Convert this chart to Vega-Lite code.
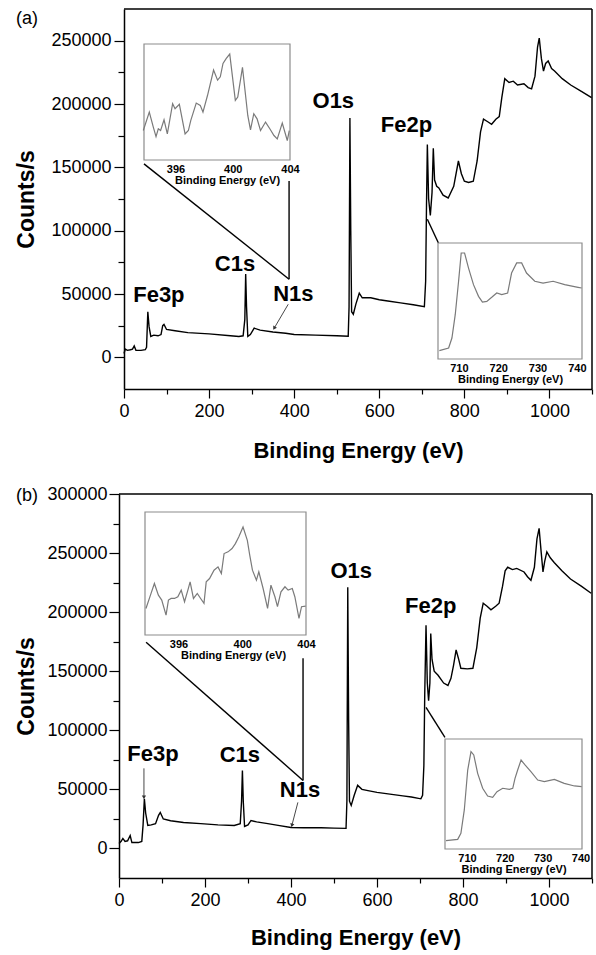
{
  "$schema": "https://vega.github.io/schema/vega-lite/v6.json",
  "padding": {"left": 15, "top": 8, "right": 0, "bottom": 12},
  "config": {
    "view": {"stroke": null},
    "font": "Liberation Sans",
    "axis": {"grid": false, "labelFont": "Liberation Sans", "titleFont": "Liberation Sans", "labelColor": "black", "titleColor": "black", "domainColor": "black", "tickColor": "black", "labelFlush": false, "labelOverlap": false},
    "title": {"font": "Liberation Sans", "color": "black"},
    "text": {"font": "Liberation Sans"}
  },
  "datasets": {
    "survey_a": [
      {"be":0,"counts":3000},{"be":3,"counts":6500},{"be":8,"counts":5500},{"be":15,"counts":6000},{"be":20,"counts":6500},{"be":24,"counts":9000},{"be":28,"counts":5500},{"be":40,"counts":5500},{"be":50,"counts":6000},{"be":53,"counts":8000},{"be":56,"counts":36000},{"be":59,"counts":24000},{"be":63,"counts":16500},{"be":70,"counts":17500},{"be":80,"counts":17000},{"be":87,"counts":18000},{"be":91,"counts":25000},{"be":94,"counts":26000},{"be":100,"counts":22000},{"be":120,"counts":21000},{"be":150,"counts":19500},{"be":200,"counts":18500},{"be":250,"counts":17000},{"be":270,"counts":16500},{"be":280,"counts":17000},{"be":284,"counts":30000},{"be":286,"counts":65700},{"be":288,"counts":40000},{"be":291,"counts":16500},{"be":297,"counts":18000},{"be":306,"counts":23000},{"be":320,"counts":21500},{"be":350,"counts":20000},{"be":380,"counts":19000},{"be":400,"counts":18000},{"be":450,"counts":17500},{"be":500,"counts":17000},{"be":527,"counts":16600},{"be":529,"counts":40000},{"be":531,"counts":189000},{"be":533,"counts":100000},{"be":535,"counts":36000},{"be":539,"counts":34000},{"be":545,"counts":42000},{"be":553,"counts":50600},{"be":560,"counts":47000},{"be":580,"counts":47000},{"be":600,"counts":45500},{"be":620,"counts":44500},{"be":650,"counts":43000},{"be":680,"counts":41500},{"be":706,"counts":40000},{"be":709,"counts":60000},{"be":711,"counts":120000},{"be":713,"counts":168000},{"be":716,"counts":125000},{"be":720,"counts":112000},{"be":724,"counts":130000},{"be":727,"counts":165000},{"be":730,"counts":140000},{"be":735,"counts":135000},{"be":740,"counts":133700},{"be":750,"counts":128000},{"be":762,"counts":125800},{"be":775,"counts":135000},{"be":786,"counts":155000},{"be":793,"counts":145000},{"be":800,"counts":139000},{"be":810,"counts":138000},{"be":821,"counts":139000},{"be":830,"counts":155000},{"be":838,"counts":178000},{"be":845,"counts":188000},{"be":855,"counts":186000},{"be":864,"counts":184000},{"be":874,"counts":188000},{"be":882,"counts":190000},{"be":888,"counts":205000},{"be":895,"counts":220000},{"be":905,"counts":217000},{"be":915,"counts":218000},{"be":925,"counts":215000},{"be":940,"counts":216000},{"be":950,"counts":213000},{"be":958,"counts":212000},{"be":966,"counts":222000},{"be":972,"counts":245000},{"be":976,"counts":252000},{"be":981,"counts":236000},{"be":986,"counts":226000},{"be":991,"counts":232000},{"be":997,"counts":234000},{"be":1005,"counts":228000},{"be":1012,"counts":226000},{"be":1030,"counts":220000},{"be":1050,"counts":215000},{"be":1075,"counts":210000},{"be":1099,"counts":205000}
    ],
    "survey_b": [
      {"be":0,"counts":4200},{"be":5,"counts":6000},{"be":9,"counts":8500},{"be":14,"counts":6000},{"be":20,"counts":6500},{"be":26,"counts":11000},{"be":30,"counts":5000},{"be":45,"counts":5000},{"be":53,"counts":6000},{"be":56,"counts":20000},{"be":59,"counts":42000},{"be":62,"counts":30000},{"be":67,"counts":19500},{"be":75,"counts":20000},{"be":85,"counts":21000},{"be":92,"counts":28000},{"be":96,"counts":30500},{"be":103,"counts":25000},{"be":120,"counts":23500},{"be":150,"counts":22000},{"be":190,"counts":21000},{"be":230,"counts":20000},{"be":268,"counts":19500},{"be":282,"counts":21000},{"be":285,"counts":40000},{"be":287,"counts":66000},{"be":289,"counts":40000},{"be":292,"counts":18600},{"be":300,"counts":20000},{"be":307,"counts":23700},{"be":320,"counts":22500},{"be":346,"counts":21000},{"be":370,"counts":19500},{"be":400,"counts":17800},{"be":430,"counts":17500},{"be":470,"counts":17500},{"be":500,"counts":17200},{"be":528,"counts":17000},{"be":530,"counts":40000},{"be":532,"counts":221000},{"be":534,"counts":110000},{"be":536,"counts":40000},{"be":540,"counts":36400},{"be":547,"counts":45000},{"be":555,"counts":53400},{"be":565,"counts":50000},{"be":579,"counts":49000},{"be":600,"counts":47500},{"be":630,"counts":46000},{"be":660,"counts":44500},{"be":680,"counts":43500},{"be":702,"counts":42000},{"be":706,"counts":45000},{"be":709,"counts":70000},{"be":711,"counts":130000},{"be":714,"counts":189000},{"be":717,"counts":140000},{"be":720,"counts":125000},{"be":723,"counts":140000},{"be":725,"counts":182000},{"be":728,"counts":160000},{"be":733,"counts":150000},{"be":742,"counts":146600},{"be":755,"counts":140000},{"be":765,"counts":138000},{"be":772,"counts":144000},{"be":778,"counts":155000},{"be":784,"counts":168000},{"be":790,"counts":160000},{"be":795,"counts":152500},{"be":810,"counts":152000},{"be":823,"counts":152500},{"be":832,"counts":170000},{"be":840,"counts":195000},{"be":847,"counts":207600},{"be":856,"counts":205000},{"be":865,"counts":202000},{"be":876,"counts":205000},{"be":884,"counts":207600},{"be":892,"counts":222000},{"be":898,"counts":235000},{"be":904,"counts":238000},{"be":915,"counts":236000},{"be":925,"counts":237000},{"be":942,"counts":234000},{"be":950,"counts":230000},{"be":958,"counts":227000},{"be":966,"counts":238000},{"be":972,"counts":262000},{"be":977,"counts":271000},{"be":982,"counts":250000},{"be":986,"counts":234000},{"be":990,"counts":243000},{"be":995,"counts":251000},{"be":1003,"counts":246000},{"be":1012,"counts":242000},{"be":1030,"counts":235000},{"be":1050,"counts":228000},{"be":1075,"counts":222000},{"be":1098,"counts":216000}
    ],
    "n1s_a": [
      {"be":393.75,"i":25.4},{"be":394.17,"i":41.3},{"be":394.45,"i":28.3},{"be":394.64,"i":20.2},{"be":394.8,"i":26.9},{"be":394.96,"i":25.4},{"be":395.2,"i":34.7},{"be":395.43,"i":22.5},{"be":395.8,"i":48.6},{"be":395.97,"i":44.2},{"be":396.27,"i":48},{"be":396.67,"i":22.5},{"be":396.9,"i":25.4},{"be":397.07,"i":34.1},{"be":397.45,"i":49.1},{"be":397.73,"i":47.1},{"be":397.92,"i":41.3},{"be":398.24,"i":55.8},{"be":398.66,"i":77.5},{"be":398.94,"i":68.8},{"be":399.13,"i":71.7},{"be":399.32,"i":83.2},{"be":399.55,"i":87.6},{"be":399.79,"i":91.3},{"be":400.18,"i":51.4},{"be":400.35,"i":54.3},{"be":400.68,"i":79.8},{"be":401.05,"i":38.4},{"be":401.24,"i":26},{"be":401.47,"i":39.9},{"be":401.7,"i":35.5},{"be":401.94,"i":25.4},{"be":402.29,"i":32.7},{"be":402.59,"i":26.9},{"be":402.88,"i":21.1},{"be":403.11,"i":18.2},{"be":403.46,"i":31.8},{"be":403.81,"i":16.8},{"be":403.95,"i":25.4}
    ],
    "fe2p_a": [
      {"be":705.04,"i":7.2},{"be":707.4,"i":9.5},{"be":708.24,"i":18.1},{"be":709.08,"i":38.2},{"be":709.93,"i":67},{"be":710.6,"i":91.4},{"be":711.45,"i":91.4},{"be":712.46,"i":78.4},{"be":713.72,"i":64.1},{"be":715,"i":54},{"be":716,"i":49.1},{"be":717.1,"i":49.7},{"be":718.36,"i":53.2},{"be":719.63,"i":56.9},{"be":720.9,"i":55.5},{"be":722.4,"i":56.9},{"be":723.4,"i":74.1},{"be":724.7,"i":82.8},{"be":725.96,"i":82.8},{"be":727.2,"i":74.1},{"be":729.3,"i":67},{"be":731.4,"i":65.5},{"be":733.96,"i":67},{"be":736.9,"i":64.1},{"be":740.3,"i":61.8},{"be":741.2,"i":61.2}
    ],
    "n1s_b": [
      {"be":393.96,"i":21.6},{"be":394.28,"i":33.8},{"be":394.49,"i":41.9},{"be":394.74,"i":32.4},{"be":394.95,"i":28.4},{"be":395.22,"i":16.2},{"be":395.37,"i":28.4},{"be":395.54,"i":29.7},{"be":395.75,"i":29.7},{"be":395.96,"i":31.1},{"be":396.17,"i":36.5},{"be":396.38,"i":27},{"be":396.59,"i":36.5},{"be":396.73,"i":43.2},{"be":396.94,"i":29.7},{"be":397.18,"i":33.8},{"be":397.39,"i":29.7},{"be":397.6,"i":25.7},{"be":397.74,"i":43.2},{"be":397.95,"i":45.9},{"be":398.23,"i":52.7},{"be":398.48,"i":55.4},{"be":398.69,"i":50},{"be":398.86,"i":66.2},{"be":399.11,"i":67.6},{"be":399.36,"i":70.3},{"be":399.57,"i":74.3},{"be":399.78,"i":79.7},{"be":400.05,"i":87.8},{"be":400.32,"i":77},{"be":400.47,"i":64.9},{"be":400.64,"i":52.7},{"be":400.89,"i":44.6},{"be":401.04,"i":51.4},{"be":401.31,"i":37.8},{"be":401.59,"i":21.6},{"be":401.8,"i":40.5},{"be":402.05,"i":31.1},{"be":402.21,"i":23},{"be":402.43,"i":35.1},{"be":402.68,"i":39.2},{"be":402.88,"i":36.5},{"be":403.14,"i":37.8},{"be":403.3,"i":31.1},{"be":403.56,"i":13.5},{"be":403.72,"i":23},{"be":403.98,"i":23.5}
    ],
    "fe2p_b": [
      {"be":704.46,"i":7.6},{"be":707.55,"i":8.8},{"be":708.4,"i":14.2},{"be":709.3,"i":35.5},{"be":710.2,"i":71.8},{"be":711.07,"i":88.5},{"be":711.8,"i":85.5},{"be":712.83,"i":68.8},{"be":714.15,"i":55.2},{"be":715.47,"i":48.2},{"be":716.8,"i":47},{"be":717.94,"i":52.1},{"be":719.44,"i":55.2},{"be":721.2,"i":54.2},{"be":722.1,"i":55.2},{"be":722.7,"i":64.2},{"be":723.4,"i":71.8},{"be":724.3,"i":80.9},{"be":725.34,"i":76.4},{"be":726.9,"i":70.3},{"be":728.7,"i":62.7},{"be":730.45,"i":61.2},{"be":733.1,"i":63.3},{"be":735.7,"i":59.7},{"be":738.4,"i":57.3},{"be":740.3,"i":56.7}
    ],
    "labels_a": [
      {"x":82,"y":43500,"text":"Fe3p"},{"x":261,"y":68000,"text":"C1s"},{"x":398,"y":44300,"text":"N1s"},{"x":492,"y":197000,"text":"O1s"},{"x":664,"y":178000,"text":"Fe2p"}
    ],
    "labels_b": [
      {"x":79,"y":73700,"text":"Fe3p"},{"x":281,"y":72900,"text":"C1s"},{"x":421,"y":43200,"text":"N1s"},{"x":540,"y":228800,"text":"O1s"},{"x":725,"y":199000,"text":"Fe2p"}
    ],
    "conn_a": [
      {"x":47,"y":152700,"x2":388,"y2":61700},
      {"x":388,"y":139200,"x2":388,"y2":61700},
      {"x":713,"y":109000,"x2":739,"y2":90200}
    ],
    "conn_b": [
      {"x":63,"y":174600,"x2":428,"y2":57600},
      {"x":428,"y":161000,"x2":428,"y2":57600},
      {"x":714,"y":119500,"x2":758,"y2":94000}
    ],
    "arrow_a": [
      {"id":"N1s","x":386,"y":41900,"x2":353,"y2":23000}
    ],
    "arrow_b": [
      {"id":"Fe3p","x":58,"y":67800,"x2":58,"y2":43200},
      {"id":"N1s","x":416,"y":39000,"x2":402,"y2":19500}
    ]
  },
  "columns": 1,
  "spacing": 24,
  "concat": [
    {
      "width": 473,
      "height": 380,
      "title": {"text": "(a)", "anchor": "start", "frame": "bounds", "offset": -20, "fontSize": 18, "fontWeight": "normal"},
      "resolve": {"scale": {"x": "independent", "y": "independent"}, "axis": {"x": "independent", "y": "independent"}},
      "layer": [
        {
          "data": {"name": "survey_a"},
          "mark": {"type": "line", "color": "black", "strokeWidth": 1.4},
          "encoding": {
            "x": {"field": "be", "type": "quantitative",
              "scale": {"domain": [0, 1100], "range": [5, 473], "nice": false, "zero": false},
              "axis": {"orient": "bottom", "values": [0,200,400,600,800,1000], "format": "d",
                "tickSize": 9, "tickWidth": 1.2, "domainWidth": 1.5, "labelFontSize": 18, "labelPadding": 4,
                "title": "Binding Energy (eV)", "titleFontSize": 22, "titleFontWeight": "bold", "titlePadding": 20}},
            "y": {"field": "counts", "type": "quantitative",
              "scale": {"domain": [-25000, 275000], "nice": false, "zero": false},
              "axis": {"orient": "left", "offset": -5, "values": [0,50000,100000,150000,200000,250000], "format": "d",
                "tickSize": 10, "tickWidth": 1.2, "domainWidth": 1.5, "labelFontSize": 18, "labelPadding": 3,
                "title": "Counts/s", "titleFontSize": 23, "titleFontWeight": "bold", "titlePadding": 12}}
          }
        },
        {
          "data": {"name": "conn_a"},
          "mark": {"type": "rule", "color": "black", "strokeWidth": 1.4},
          "encoding": {
            "x": {"field": "x", "type": "quantitative",
              "scale": {"domain": [0, 1100], "range": [5, 473], "nice": false, "zero": false},
              "axis": {"orient": "bottom", "values": [100,300,500,700,900,1100], "labels": false, "domain": false, "tickSize": 5, "tickWidth": 1.2, "title": null}},
            "y": {"field": "y", "type": "quantitative",
              "scale": {"domain": [-25000, 275000], "nice": false, "zero": false},
              "axis": {"orient": "left", "offset": -5, "values": [25000,75000,125000,175000,225000], "labels": false, "domain": false, "tickSize": 6, "tickWidth": 1.2, "title": null}},
            "x2": {"field": "x2"}, "y2": {"field": "y2"}
          }
        },
        {
          "data": {"values": [{}]},
          "mark": {"type": "rule", "color": "black", "strokeWidth": 1.5},
          "encoding": {
            "x": {"datum": 0, "type": "quantitative", "scale": {"domain": [0, 1100], "range": [5, 473], "nice": false, "zero": false}, "axis": null},
            "x2": {"datum": 1100},
            "y": {"datum": 275000, "type": "quantitative", "scale": {"domain": [-25000, 275000], "nice": false, "zero": false}, "axis": null}
          }
        },
        {
          "data": {"values": [{}]},
          "mark": {"type": "rule", "color": "black", "strokeWidth": 1.5},
          "encoding": {
            "x": {"datum": 1100, "type": "quantitative", "scale": {"domain": [0, 1100], "range": [5, 473], "nice": false, "zero": false}, "axis": null},
            "y": {"datum": -25000, "type": "quantitative", "scale": {"domain": [-25000, 275000], "nice": false, "zero": false}, "axis": null},
            "y2": {"datum": 275000}
          }
        },
        {
          "data": {"name": "arrow_a"},
          "mark": {"type": "rule", "color": "#333", "strokeWidth": 0.9},
          "encoding": {
            "x": {"field": "x", "type": "quantitative", "scale": {"domain": [0, 1100], "range": [5, 473], "nice": false, "zero": false}, "axis": null},
            "y": {"field": "y", "type": "quantitative", "scale": {"domain": [-25000, 275000], "nice": false, "zero": false}, "axis": null},
            "x2": {"field": "x2"}, "y2": {"field": "y2"}
          }
        },
        {
          "data": {"name": "arrow_a"},
          "mark": {"type": "point", "shape": "triangle-down", "filled": true, "color": "#333", "size": 18, "angle": 30, "opacity": 1},
          "encoding": {
            "x": {"field": "x2", "type": "quantitative", "scale": {"domain": [0, 1100], "range": [5, 473], "nice": false, "zero": false}, "axis": null},
            "y": {"field": "y2", "type": "quantitative", "scale": {"domain": [-25000, 275000], "nice": false, "zero": false}, "axis": null}
          }
        },
        {
          "data": {"name": "labels_a"},
          "mark": {"type": "text", "fontSize": 22, "fontWeight": "bold", "align": "center", "baseline": "alphabetic", "color": "black"},
          "encoding": {
            "x": {"field": "x", "type": "quantitative", "scale": {"domain": [0, 1100], "range": [5, 473], "nice": false, "zero": false}, "axis": null},
            "y": {"field": "y", "type": "quantitative", "scale": {"domain": [-25000, 275000], "nice": false, "zero": false}, "axis": null},
            "text": {"field": "text"}
          }
        },
        {
          "data": {"values": [{}]},
          "mark": {"type": "rect", "fill": "white", "stroke": "#8c8c8c", "strokeWidth": 1.2},
          "encoding": {
            "x": {"datum": 393.8, "type": "quantitative", "scale": {"domain": [393.8, 404], "range": [25, 171], "nice": false, "zero": false}, "axis": null},
            "x2": {"datum": 404},
            "y": {"datum": 0, "type": "quantitative", "scale": {"domain": [0, 100], "range": [151, 35], "nice": false, "zero": false}, "axis": null},
            "y2": {"datum": 100}
          }
        },
        {
          "data": {"name": "n1s_a"},
          "mark": {"type": "line", "color": "#7a7a7a", "strokeWidth": 1.2},
          "encoding": {
            "x": {"field": "be", "type": "quantitative",
              "scale": {"domain": [393.8, 404], "range": [25, 171], "nice": false, "zero": false},
              "axis": {"orient": "bottom", "offset": -229, "values": [396, 400, 404], "domain": false, "ticks": false,
                "labelFontSize": 11, "labelFontWeight": "bold", "labelPadding": 3,
                "title": "Binding Energy (eV)", "titleX": 108, "titleFontSize": 11, "titleFontWeight": "bold", "titlePadding": 0}},
            "y": {"field": "i", "type": "quantitative", "scale": {"domain": [0, 100], "range": [151, 35], "nice": false, "zero": false}, "axis": null}
          }
        },
        {
          "data": {"values": [{}]},
          "mark": {"type": "rect", "fill": "white", "stroke": "#8c8c8c", "strokeWidth": 1.2},
          "encoding": {
            "x": {"datum": 704.7, "type": "quantitative", "scale": {"domain": [704.7, 741.3], "range": [319, 463], "nice": false, "zero": false}, "axis": null},
            "x2": {"datum": 741.3},
            "y": {"datum": 0, "type": "quantitative", "scale": {"domain": [0, 100], "range": [350, 234], "nice": false, "zero": false}, "axis": null},
            "y2": {"datum": 100}
          }
        },
        {
          "data": {"name": "fe2p_a"},
          "mark": {"type": "line", "color": "#7a7a7a", "strokeWidth": 1.2},
          "encoding": {
            "x": {"field": "be", "type": "quantitative",
              "scale": {"domain": [704.7, 741.3], "range": [319, 463], "nice": false, "zero": false},
              "axis": {"orient": "bottom", "offset": -30, "values": [710, 720, 730, 740], "domain": false, "ticks": false,
                "labelFontSize": 11, "labelFontWeight": "bold", "labelPadding": 3,
                "title": "Binding Energy (eV)", "titleFontSize": 11, "titleFontWeight": "bold", "titlePadding": 0}},
            "y": {"field": "i", "type": "quantitative", "scale": {"domain": [0, 100], "range": [350, 234], "nice": false, "zero": false}, "axis": null}
          }
        }
      ]
    },
    {
      "width": 473,
      "height": 384,
      "title": {"text": "(b)", "anchor": "start", "frame": "bounds", "offset": -20, "fontSize": 18, "fontWeight": "normal"},
      "resolve": {"scale": {"x": "independent", "y": "independent"}, "axis": {"x": "independent", "y": "independent"}},
      "layer": [
        {
          "data": {"name": "survey_b"},
          "mark": {"type": "line", "color": "black", "strokeWidth": 1.4},
          "encoding": {
            "x": {"field": "be", "type": "quantitative",
              "scale": {"domain": [0, 1100], "nice": false, "zero": false},
              "axis": {"orient": "bottom", "values": [0,200,400,600,800,1000], "format": "d",
                "tickSize": 9, "tickWidth": 1.2, "domainWidth": 1.5, "labelFontSize": 18, "labelPadding": 4,
                "title": "Binding Energy (eV)", "titleFontSize": 22, "titleFontWeight": "bold", "titlePadding": 18}},
            "y": {"field": "counts", "type": "quantitative",
              "scale": {"domain": [-25000, 300000], "nice": false, "zero": false},
              "axis": {"orient": "left", "values": [0,50000,100000,150000,200000,250000,300000], "format": "d",
                "tickSize": 10, "tickWidth": 1.2, "domainWidth": 1.5, "labelFontSize": 18, "labelPadding": 2,
                "title": "Counts/s", "titleFontSize": 23, "titleFontWeight": "bold", "titlePadding": 8}}
          }
        },
        {
          "data": {"name": "conn_b"},
          "mark": {"type": "rule", "color": "black", "strokeWidth": 1.4},
          "encoding": {
            "x": {"field": "x", "type": "quantitative",
              "scale": {"domain": [0, 1100], "nice": false, "zero": false},
              "axis": {"orient": "bottom", "values": [100,300,500,700,900,1100], "labels": false, "domain": false, "tickSize": 5, "tickWidth": 1.2, "title": null}},
            "y": {"field": "y", "type": "quantitative",
              "scale": {"domain": [-25000, 300000], "nice": false, "zero": false},
              "axis": {"orient": "left", "values": [25000,75000,125000,175000,225000,275000], "labels": false, "domain": false, "tickSize": 6, "tickWidth": 1.2, "title": null}},
            "x2": {"field": "x2"}, "y2": {"field": "y2"}
          }
        },
        {
          "data": {"values": [{}]},
          "mark": {"type": "rule", "color": "black", "strokeWidth": 1.5},
          "encoding": {
            "x": {"datum": 0, "type": "quantitative", "scale": {"domain": [0, 1100], "nice": false, "zero": false}, "axis": null},
            "x2": {"datum": 1100},
            "y": {"datum": 300000, "type": "quantitative", "scale": {"domain": [-25000, 300000], "nice": false, "zero": false}, "axis": null}
          }
        },
        {
          "data": {"values": [{}]},
          "mark": {"type": "rule", "color": "black", "strokeWidth": 1.5},
          "encoding": {
            "x": {"datum": 1100, "type": "quantitative", "scale": {"domain": [0, 1100], "nice": false, "zero": false}, "axis": null},
            "y": {"datum": -25000, "type": "quantitative", "scale": {"domain": [-25000, 300000], "nice": false, "zero": false}, "axis": null},
            "y2": {"datum": 300000}
          }
        },
        {
          "data": {"name": "arrow_b"},
          "mark": {"type": "rule", "color": "#333", "strokeWidth": 0.9},
          "encoding": {
            "x": {"field": "x", "type": "quantitative", "scale": {"domain": [0, 1100], "nice": false, "zero": false}, "axis": null},
            "y": {"field": "y", "type": "quantitative", "scale": {"domain": [-25000, 300000], "nice": false, "zero": false}, "axis": null},
            "x2": {"field": "x2"}, "y2": {"field": "y2"}
          }
        },
        {
          "data": {"name": "arrow_b"},
          "transform": [{"filter": "datum.id === 'Fe3p'"}],
          "mark": {"type": "point", "shape": "triangle-down", "filled": true, "color": "#333", "size": 18, "angle": 0, "opacity": 1},
          "encoding": {
            "x": {"field": "x2", "type": "quantitative", "scale": {"domain": [0, 1100], "nice": false, "zero": false}, "axis": null},
            "y": {"field": "y2", "type": "quantitative", "scale": {"domain": [-25000, 300000], "nice": false, "zero": false}, "axis": null}
          }
        },
        {
          "data": {"name": "arrow_b"},
          "transform": [{"filter": "datum.id === 'N1s'"}],
          "mark": {"type": "point", "shape": "triangle-down", "filled": true, "color": "#333", "size": 18, "angle": 15, "opacity": 1},
          "encoding": {
            "x": {"field": "x2", "type": "quantitative", "scale": {"domain": [0, 1100], "nice": false, "zero": false}, "axis": null},
            "y": {"field": "y2", "type": "quantitative", "scale": {"domain": [-25000, 300000], "nice": false, "zero": false}, "axis": null}
          }
        },
        {
          "data": {"name": "labels_b"},
          "mark": {"type": "text", "fontSize": 22, "fontWeight": "bold", "align": "center", "baseline": "alphabetic", "color": "black"},
          "encoding": {
            "x": {"field": "x", "type": "quantitative", "scale": {"domain": [0, 1100], "nice": false, "zero": false}, "axis": null},
            "y": {"field": "y", "type": "quantitative", "scale": {"domain": [-25000, 300000], "nice": false, "zero": false}, "axis": null},
            "text": {"field": "text"}
          }
        },
        {
          "data": {"values": [{}]},
          "mark": {"type": "rect", "fill": "white", "stroke": "#8c8c8c", "strokeWidth": 1.2},
          "encoding": {
            "x": {"datum": 393.9, "type": "quantitative", "scale": {"domain": [393.9, 404], "range": [26, 187], "nice": false, "zero": false}, "axis": null},
            "x2": {"datum": 404},
            "y": {"datum": 0, "type": "quantitative", "scale": {"domain": [0, 100], "range": [141, 18], "nice": false, "zero": false}, "axis": null},
            "y2": {"datum": 100}
          }
        },
        {
          "data": {"name": "n1s_b"},
          "mark": {"type": "line", "color": "#7a7a7a", "strokeWidth": 1.2},
          "encoding": {
            "x": {"field": "be", "type": "quantitative",
              "scale": {"domain": [393.9, 404], "range": [26, 187], "nice": false, "zero": false},
              "axis": {"orient": "bottom", "offset": -243, "values": [396, 400, 404], "domain": false, "ticks": false,
                "labelFontSize": 11, "labelFontWeight": "bold", "labelPadding": 3,
                "title": "Binding Energy (eV)", "titleX": 114, "titleFontSize": 11, "titleFontWeight": "bold", "titlePadding": 0}},
            "y": {"field": "i", "type": "quantitative", "scale": {"domain": [0, 100], "range": [141, 18], "nice": false, "zero": false}, "axis": null}
          }
        },
        {
          "data": {"values": [{}]},
          "mark": {"type": "rect", "fill": "white", "stroke": "#8c8c8c", "strokeWidth": 1.2},
          "encoding": {
            "x": {"datum": 704.2, "type": "quantitative", "scale": {"domain": [704.2, 740.4], "range": [326, 463], "nice": false, "zero": false}, "axis": null},
            "x2": {"datum": 740.4},
            "y": {"datum": 0, "type": "quantitative", "scale": {"domain": [0, 100], "range": [355, 245], "nice": false, "zero": false}, "axis": null},
            "y2": {"datum": 100}
          }
        },
        {
          "data": {"name": "fe2p_b"},
          "mark": {"type": "line", "color": "#7a7a7a", "strokeWidth": 1.2},
          "encoding": {
            "x": {"field": "be", "type": "quantitative",
              "scale": {"domain": [704.2, 740.4], "range": [326, 463], "nice": false, "zero": false},
              "axis": {"orient": "bottom", "offset": -29, "values": [710, 720, 730, 740], "domain": false, "ticks": false,
                "labelFontSize": 11, "labelFontWeight": "bold", "labelPadding": 3,
                "title": "Binding Energy (eV)", "titleFontSize": 11, "titleFontWeight": "bold", "titlePadding": 0}},
            "y": {"field": "i", "type": "quantitative", "scale": {"domain": [0, 100], "range": [355, 245], "nice": false, "zero": false}, "axis": null}
          }
        }
      ]
    }
  ]
}
